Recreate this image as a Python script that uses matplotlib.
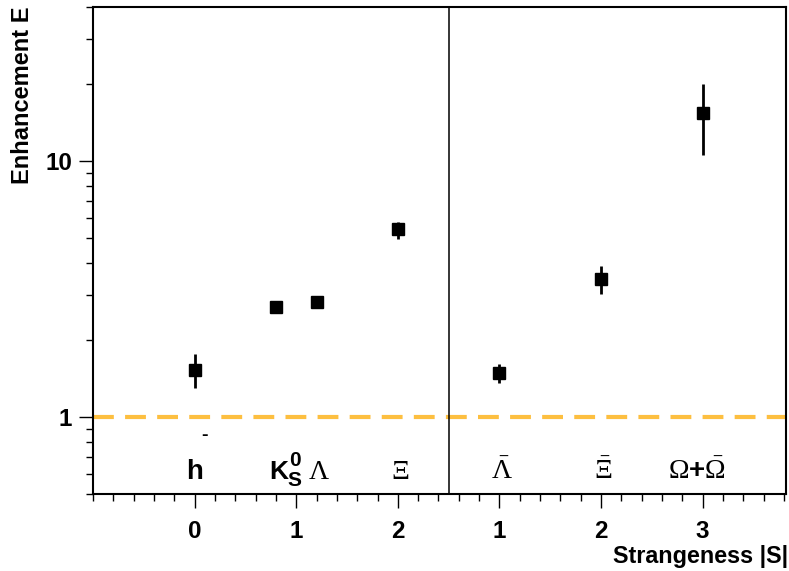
import matplotlib
matplotlib.use("Agg")
import matplotlib.pyplot as plt
from matplotlib.ticker import FixedLocator, MultipleLocator, NullFormatter, FixedFormatter
import numpy as np

plt.rcParams['font.family'] = ['Liberation Sans', 'DejaVu Sans']
plt.rcParams['mathtext.fontset'] = 'custom'
plt.rcParams['mathtext.rm'] = 'Liberation Serif'
plt.rcParams['mathtext.it'] = 'Liberation Serif:italic'
plt.rcParams['mathtext.bf'] = 'Liberation Serif:bold'

# data
particles = ["h-", "K0S", "Lambda", "Xi", "antiLambda", "antiXi", "Omega+antiOmega"]
x_pos = [0.0, 0.8, 1.2, 2.0, 3.0, 4.0, 5.0]
enhancement = [1.53, 2.70, 2.81, 5.42, 1.49, 3.45, 15.4]
err_low = [0.23, 0.08, 0.08, 0.46, 0.13, 0.42, 4.8]
err_high = [0.23, 0.08, 0.08, 0.36, 0.12, 0.44, 4.6]
tick_positions = [0, 1, 2, 3, 4, 5]
tick_labels = ["0", "1", "2", "1", "2", "3"]

fig = plt.figure(figsize=(7.89, 5.71), dpi=100)
ax = fig.add_axes([93/789, 1-494/571, (786-93)/789, (494-7)/571])

ax.set_yscale('log')
ax.set_xlim(-1.0, 5.82)
ax.set_ylim(0.5, 40)

# reference line
ax.axhline(1.0, color='#fdbf40', lw=3, linestyle=(0, (5, 2.7)), zorder=1)
# separator
ax.axvline(2.5, color='black', lw=1.1, zorder=2)

ax.errorbar(x_pos, enhancement, yerr=[err_low, err_high], fmt='s', color='black',
            ms=8.8, elinewidth=2.0, capsize=0, zorder=3)

# ticks
ax.xaxis.set_major_locator(FixedLocator(tick_positions))
ax.xaxis.set_major_formatter(FixedFormatter(tick_labels))
ax.xaxis.set_minor_locator(MultipleLocator(0.2))
ax.yaxis.set_major_locator(FixedLocator([1, 10]))
ax.yaxis.set_major_formatter(FixedFormatter(["1", "10"]))
ax.yaxis.set_minor_locator(FixedLocator([0.5, 0.6, 0.7, 0.8, 0.9, 2, 3, 4, 5, 6, 7, 8, 9, 20, 30, 40]))
ax.yaxis.set_minor_formatter(NullFormatter())

ax.tick_params(axis='both', which='major', direction='out', length=10, width=1.0,
               labelsize=17.5)
ax.tick_params(axis='both', which='minor', direction='out', length=5, width=1.0)
ax.tick_params(axis='x', which='major', pad=9)
ax.tick_params(axis='y', which='major', pad=5)
for lab in ax.get_xticklabels() + ax.get_yticklabels():
    lab.set_fontweight('bold')
for s in ax.spines.values():
    s.set_linewidth(1.5)

# particle labels
ylab = 0.573
ax.text(0.0, ylab, "h", ha='center', va='baseline', fontsize=20, fontweight='bold')
ax.text(0.1, 0.843, "-", ha='center', va='center', fontsize=14, fontweight='bold')
ax.text(0.83, ylab, "K", ha='center', va='baseline', fontsize=19, fontweight='bold')
ax.annotate("0", (0.985, ylab), xytext=(0, 9), textcoords='offset points',
            ha='center', va='baseline', fontsize=15, fontweight='bold')
ax.annotate("S", (0.985, ylab), xytext=(0, -5), textcoords='offset points',
            ha='center', va='baseline', fontsize=15, fontweight='bold')
ax.text(1.22, ylab, r"$\Lambda$", ha='center', va='baseline', fontsize=20)
ax.text(2.02, ylab, r"$\Xi$", ha='center', va='baseline', fontsize=20)
ax.text(3.02, ylab, r"$\bar{\Lambda}$", ha='center', va='baseline', fontsize=20)
ax.text(4.02, ylab, r"$\bar{\Xi}$", ha='center', va='baseline', fontsize=20)
ax.text(4.94, ylab, r"$\Omega$+$\bar{\Omega}$", ha='center', va='baseline',
        fontsize=20, fontweight='bold')

fig.text(23/789, 1-7/571, "Enhancement E", rotation=90, ha='center', va='top',
         fontsize=17, fontweight='bold')
fig.text(788/789, 1-563/571, "Strangeness |S|", ha='right', va='baseline',
         fontsize=16.8, fontweight='bold')

fig.savefig("out.png", dpi=100)
